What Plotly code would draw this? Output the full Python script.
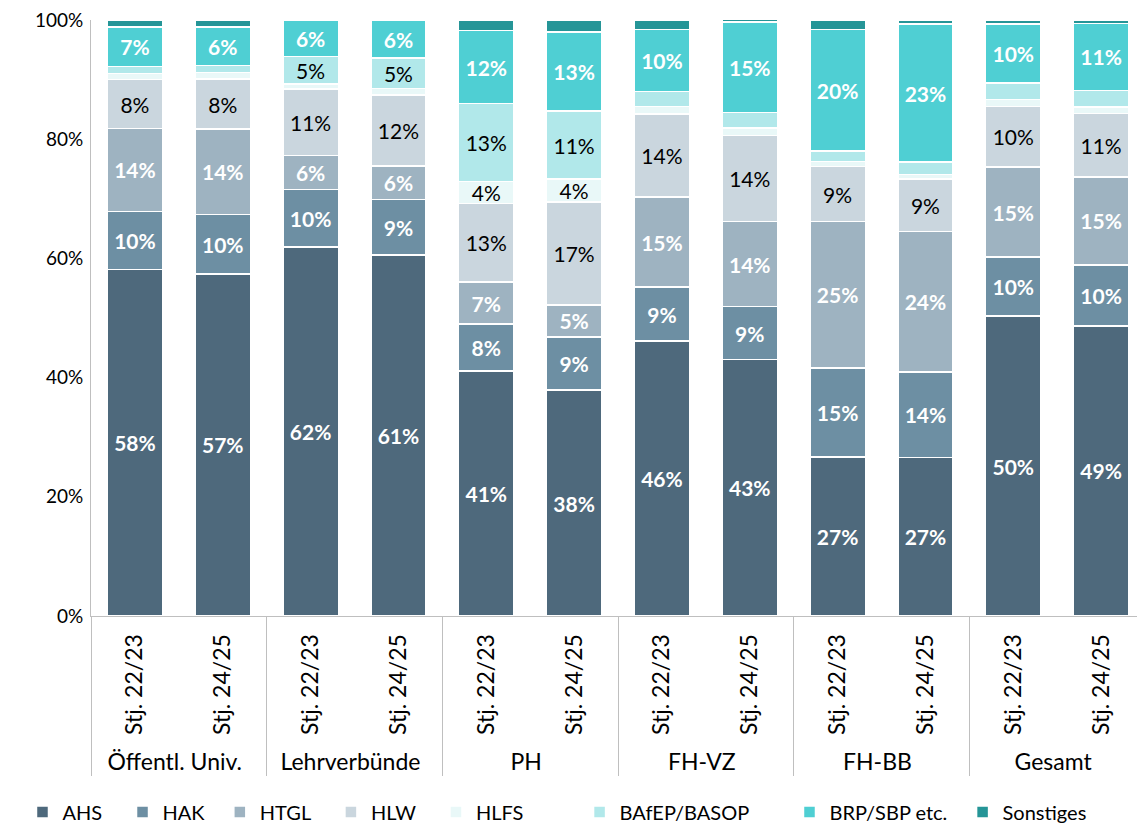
import plotly.graph_objects as go

groups = ["Öffentl. Univ.", "Öffentl. Univ.", "Lehrverbünde", "Lehrverbünde", "PH", "PH",
          "FH-VZ", "FH-VZ", "FH-BB", "FH-BB", "Gesamt", "Gesamt"]
periods = ["Stj. 22/23", "Stj. 24/25"] * 6

AHS   = [58.1, 57.4, 61.9, 60.6, 41.1, 37.9, 46.1, 43.0, 26.7, 26.6, 50.3, 48.7]
HAK   = [9.8, 10.0, 9.7, 9.3, 7.9, 8.9, 9.1, 8.9, 14.9, 14.3, 9.9, 10.2]
HTGL  = [13.9, 14.3, 5.7, 5.6, 7.0, 5.4, 15.1, 14.3, 24.6, 23.6, 15.1, 14.8]
HLW   = [8.2, 8.4, 11.1, 11.9, 13.2, 17.3, 13.9, 14.4, 9.2, 8.8, 10.2, 10.6]
HLFS  = [1.0, 1.1, 0.9, 1.1, 3.7, 3.8, 1.3, 1.3, 0.9, 0.8, 1.2, 1.1]
BAfEP = [1.2, 1.2, 4.6, 5.1, 13.1, 11.4, 2.5, 2.6, 1.7, 2.1, 2.7, 2.8]
BRP   = [6.6, 6.4, 6.1, 6.3, 12.2, 13.3, 10.4, 15.2, 20.4, 23.1, 9.9, 11.2]
SONST = [1.2, 1.2, 0.1, 0.1, 1.8, 2.0, 1.6, 0.4, 1.6, 0.7, 0.7, 0.6]

series_names = ["AHS", "HAK", "HTGL", "HLW", "HLFS", "BAfEP/BASOP", "BRP/SBP etc.", "Sonstiges"]
series_values = [AHS, HAK, HTGL, HLW, HLFS, BAfEP, BRP, SONST]
colors = ["#4e697c", "#6d8fa3", "#9eb3c1", "#cad6de", "#e9f8f8", "#b1e8ea", "#4fcfd3", "#259597"]
text_colors = ["white", "white", "white", "black", "black", "black", "white", "white"]
bold_flags = [True, True, True, False, False, False, True, True]
# extra legend spacing after each entry (non-breaking spaces)
legend_pad = [3, 2, 3, 3, 10, 7, 2, 0]

FONT = "Lato, 'Noto Sans', sans-serif"

fig = go.Figure()
for name, vals, color, tcolor, bold, pad in zip(
        series_names, series_values, colors, text_colors, bold_flags, legend_pad):
    texts = []
    for v in vals:
        if v >= 3.5:
            t = f"{round(v)}%"
            texts.append(f"<b>{t}</b>" if bold else t)
        else:
            texts.append("")
    fig.add_trace(go.Bar(
        name=name + "\u00a0" * pad,
        x=[groups, periods],
        y=vals,
        marker=dict(color=color, line=dict(color="white", width=1.5)),
        text=texts,
        texttemplate="%{text}",
        textposition="inside",
        insidetextanchor="middle",
        textangle=0,
        constraintext="none",
        textfont=dict(color=tcolor, size=21, family=FONT),
        hoverinfo="skip",
    ))

# body has an 8px default margin in the written page; size the figure to fit the window
fig.update_layout(
    barmode="stack",
    bargap=0.37,
    width=1137,
    height=820,
    margin=dict(l=83, r=0, t=12, b=212, autoexpand=False),
    paper_bgcolor="white",
    plot_bgcolor="white",
    font=dict(family=FONT, size=19, color="black"),
    showlegend=True,
    legend=dict(
        orientation="h",
        x=-0.065, xanchor="left",
        y=-0.329, yanchor="middle",
        font=dict(size=20, family=FONT),
        traceorder="normal",
    ),
    xaxis=dict(
        type="multicategory",
        tickangle=-90,
        tickfont=dict(size=23, family=FONT),
        ticklabelstandoff=8,
        showline=True,
        linecolor="#bfbfbf",
        linewidth=1,
        showdividers=True,
        dividercolor="#bfbfbf",
        dividerwidth=1,
        ticks="",
    ),
    yaxis=dict(
        range=[0, 100],
        tickvals=[0, 20, 40, 60, 80, 100],
        ticktext=["0%", "20%", "40%", "60%", "80%", "100%"],
        showgrid=False,
        showline=True,
        linecolor="#bfbfbf",
        linewidth=1,
        zeroline=False,
        ticks="",
        ticklabelstandoff=3,
        ticklabeloverflow="allow",
        tickfont=dict(size=19, family=FONT),
    ),
)

fig.write_html("out.html")
